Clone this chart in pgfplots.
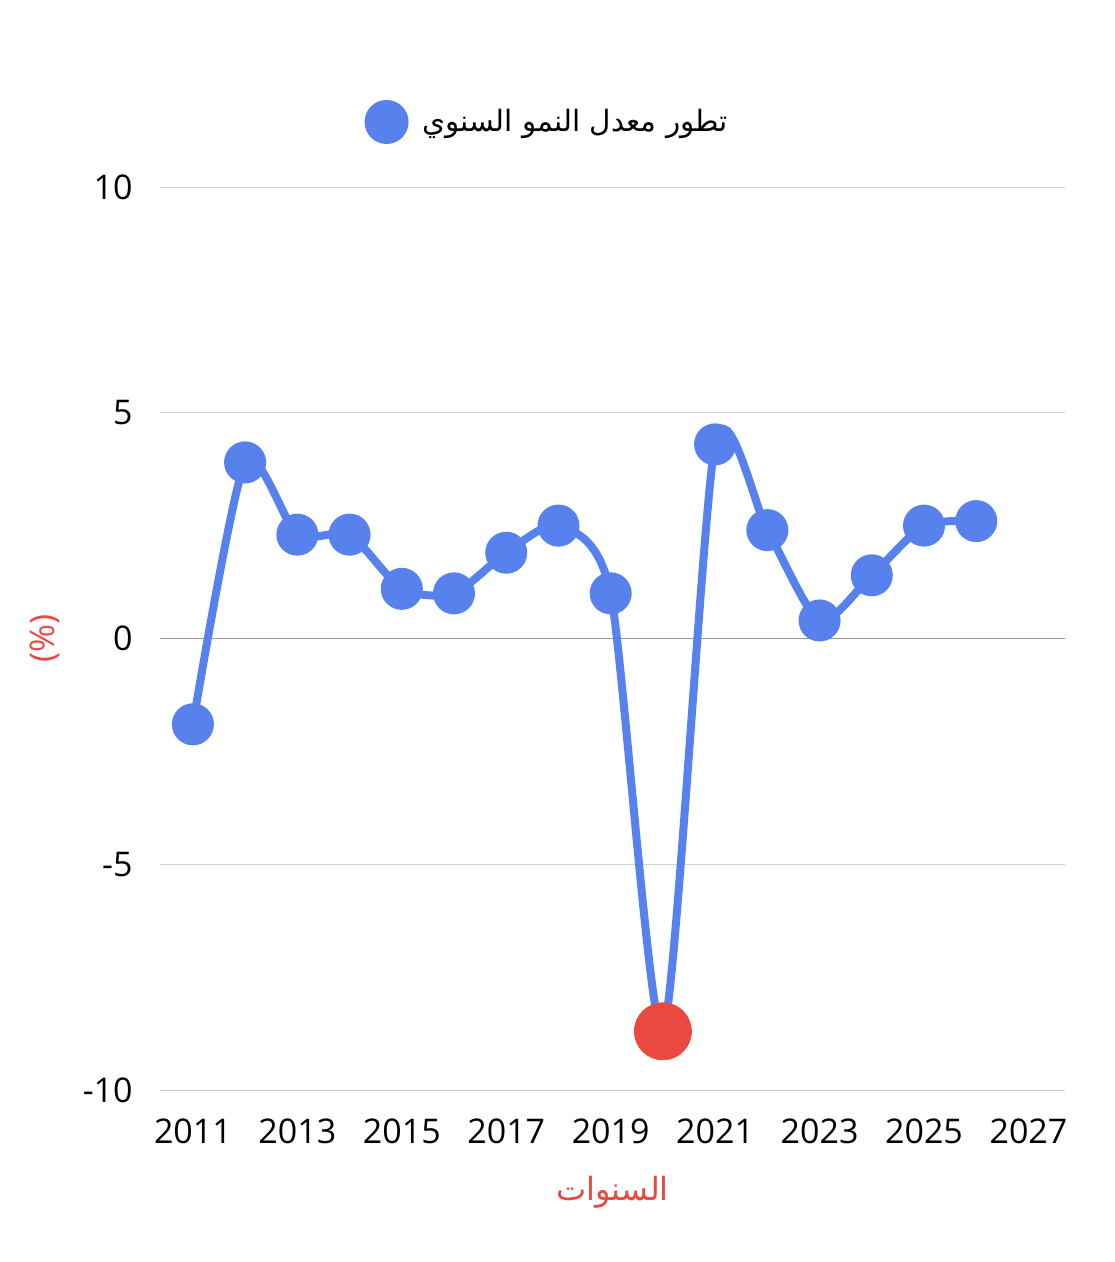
\documentclass[border=0pt]{standalone}
\usepackage{pgfplots}
\pgfplotsset{compat=1.18}
\usepackage{fontspec}
\setmainfont{Open Sans}
\TeXXeTstate=1
\newfontfamily\arabicfont[Script=Arabic]{DejaVu Sans}
\definecolor{blueC}{RGB}{87,130,237}
\definecolor{redC}{RGB}{234,72,64}
\begin{document}
\begin{tikzpicture}
\useasboundingbox (0,0) rectangle (557pt,-631pt);
\begin{axis}[
  at={(80pt,-545pt)}, anchor=south west,
  scale only axis, width=452.5pt, height=451.5pt,
  xmin=2010.37, xmax=2027.7, ymin=-10, ymax=10,
  clip=false,
  axis line style={draw=none},
  major tick length=0pt,
  xtick={2011,2013,2015,2017,2019,2021,2023,2025,2027},
  xticklabels={2011,2013,2015,2017,2019,2021,2023,2025,2027},
  ytick={-10,-5,5,10},
  yticklabels={-10,-5,5,10},
  extra y ticks={0}, extra y tick labels={0},
  extra y tick style={grid style={color=black!40, line width=0.6pt}},
  ymajorgrids, grid style={color=black!18, line width=0.5pt},
  tick label style={font=\fontsize{17}{20}\selectfont, inner sep=0pt},
  xticklabel style={anchor=north, yshift=-14pt},
  yticklabel style={anchor=east, xshift=-13.5pt},
  xlabel={\arabicfont\beginR السنوات\endR},
  xlabel style={at={(rel axis cs:0.5,-0.113)}, anchor=center, color=redC, font=\fontsize{16}{20}\selectfont},
  ylabel={(\%)},
  ylabel style={at={(rel axis cs:-0.127,0.5)}, anchor=center, color=redC, font=\fontsize{17}{20}\selectfont},
  legend style={at={(rel axis cs:0.2256,1.072)}, anchor=west, draw=none, fill=none, inner sep=0pt,
    font=\fontsize{14.7}{18}\selectfont, column sep=5pt},
  legend image code/.code={\fill[blueC] (9pt,0pt) circle (9pt);},
]
\addplot[color=blueC, line width=4pt, smooth, tension=0.42, mark=*, mark size=8.5pt, mark options={fill=blueC, draw=none}]
  coordinates {
  (2011,-1.9) (2012,3.9) (2013,2.3) (2014,2.3) (2015,1.1) (2016,1.0)
  (2017,1.9) (2018,2.5) (2019,1.0) (2020,-8.7) (2021,4.3) (2022,2.4)
  (2023,0.4) (2024,1.4) (2025,2.5) (2026,2.6)
  };
\addlegendentry{\arabicfont\beginR تطور معدل النمو السنوي\endR}
\addplot[color=redC, only marks, mark=*, mark size=14.25pt, mark options={fill=redC, draw=redC}, forget plot]
  coordinates {(2020,-8.7)};
\end{axis}
\end{tikzpicture}
\end{document}
